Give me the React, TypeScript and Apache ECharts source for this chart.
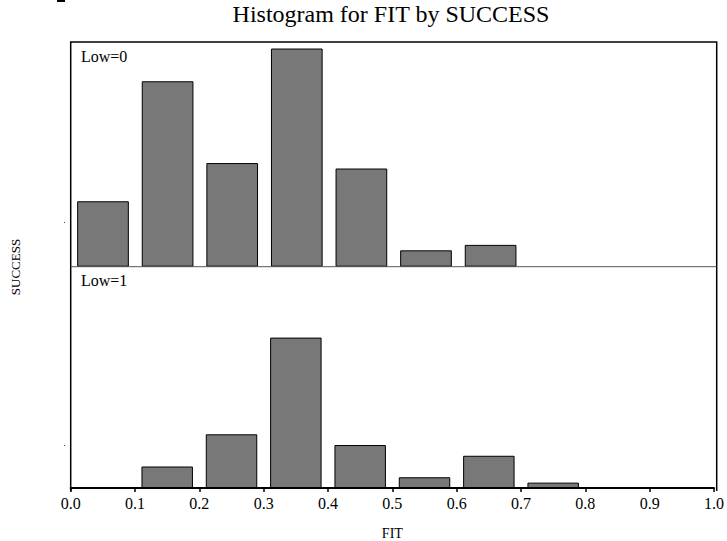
import React, { useEffect, useRef } from "react";
import * as echarts from "echarts";

const bins = ["0.0", "0.1", "0.2", "0.3", "0.4", "0.5", "0.6", "0.7", "0.8", "0.9"];
const low0Counts = [12, 34, 19, 40, 18, 3, 4, 0, 0, 0];
const low1Counts = [0, 4, 10, 28, 8, 2, 6, 1, 0, 0];
const panelLabels = ["Low=0", "Low=1"];
const titleText = "Histogram for FIT by SUCCESS";
const xName = "FIT";
const yName = "SUCCESS";

const FONT = "Liberation Serif";

export default function App() {
  const ref = useRef<HTMLDivElement>(null);
  useEffect(() => {
    if (!ref.current) return;
    const chart = echarts.init(ref.current, undefined, { renderer: "svg" });
    const L = 70.7, R = 716.7, T = 42, M = 266.7, B = 491;
    const barStyle = { color: "#787878", borderColor: "#000", borderWidth: 1 };
    const nz = (arr: number[]) => arr.map((v) => (v === 0 ? null : v));
    chart.setOption({
      animation: false,
      backgroundColor: "#fff",
      grid: [
        { left: L, right: 727 - R, top: T, height: M - T },
        { left: L, right: 727 - R, top: M, height: B - M },
      ],
      xAxis: [
        { type: "category", gridIndex: 0, data: bins, show: false },
        { type: "category", gridIndex: 1, data: bins, show: false },
        {
          type: "value",
          gridIndex: 1,
          min: 0,
          max: 1,
          interval: 0.1,
          position: "bottom",
          axisLine: { show: true, lineStyle: { color: "#000", width: 2 } },
          axisTick: { show: true, length: 4, inside: false, lineStyle: { color: "#000", width: 1.5 } },
          splitLine: { show: false },
          axisLabel: {
            formatter: (v: number) => v.toFixed(1),
            fontFamily: FONT,
            fontSize: 16,
            color: "#000",
            margin: 7,
          },
          name: xName,
          nameLocation: "middle",
          nameGap: 38,
          nameTextStyle: { fontFamily: FONT, fontSize: 14, color: "#000" },
        },
      ],
      yAxis: [
        { type: "value", gridIndex: 0, min: 0, max: 41.2, show: false },
        { type: "value", gridIndex: 1, min: 0, max: 41.2, show: false },
      ],
      series: [
        {
          type: "bar",
          name: panelLabels[0],
          xAxisIndex: 0,
          yAxisIndex: 0,
          data: nz(low0Counts),
          barCategoryGap: "20%",
          itemStyle: barStyle,
        },
        {
          type: "bar",
          name: panelLabels[1],
          xAxisIndex: 1,
          yAxisIndex: 1,
          data: nz(low1Counts),
          barCategoryGap: "20%",
          itemStyle: barStyle,
        },
      ],
      graphic: [
        {
          type: "polyline",
          shape: { points: [[L, B], [L, T], [R, T], [R, B]] },
          style: { stroke: "#000", lineWidth: 1.5, fill: null },
          z: 10,
        },
        {
          type: "line",
          shape: { x1: L, y1: M, x2: R, y2: M },
          style: { stroke: "#555", lineWidth: 1 },
          z: 10,
        },
        {
          type: "text",
          x: 391,
          y: 14,
          style: { text: titleText, font: `24px ${FONT}`, fill: "#000", align: "center", verticalAlign: "middle" },
        },
        {
          type: "text",
          x: 81,
          y: 56,
          style: { text: panelLabels[0], font: `16px ${FONT}`, fill: "#000", align: "left", verticalAlign: "middle" },
          z: 11,
        },
        {
          type: "text",
          x: 81,
          y: 280,
          style: { text: panelLabels[1], font: `16px ${FONT}`, fill: "#000", align: "left", verticalAlign: "middle" },
          z: 11,
        },
        {
          type: "text",
          x: 15,
          y: 267,
          rotation: Math.PI / 2,
          style: { text: yName, font: `13px ${FONT}`, fill: "#000", align: "center", verticalAlign: "middle" },
        },
        { type: "rect", shape: { x: 64, y: 222, width: 1, height: 1 }, style: { fill: "#444" } },
        { type: "rect", shape: { x: 64, y: 445, width: 1, height: 1 }, style: { fill: "#444" } },
        { type: "rect", shape: { x: 57, y: 0, width: 8, height: 2 }, style: { fill: "#000" } },
      ],
    });
    return () => chart.dispose();
  }, []);
  return <div ref={ref} style={{ position: "fixed", left: 0, top: 0, width: 727, height: 541 }} />;
}
